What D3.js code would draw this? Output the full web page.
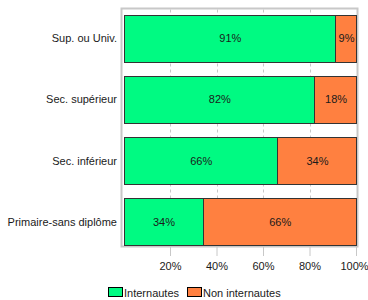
<!DOCTYPE html>
<html>
<head>
<meta charset="utf-8">
<script src="https://cdn.jsdelivr.net/npm/d3@7"></script>
<style>
  body { margin: 0; background: #fff; }
  text { font-family: "Liberation Sans", Arial, sans-serif; font-size: 11px; fill: #1a1a1a; }
</style>
</head>
<body>
<svg id="chart" width="368" height="300"></svg>
<script>
var categories = ["Sup. ou Univ.", "Sec. supérieur", "Sec. inférieur", "Primaire-sans diplôme"]
var internautes = [91, 82, 66, 34]
var nonInternautes = [9, 18, 34, 66]
var seriesNames = ["Internautes", "Non internautes"]
var seriesColors = ["#00fa82", "#ff8040"]
var tickValues = [20, 40, 60, 80, 100]

var svg = d3.select("#chart")

var x = d3.scaleLinear().domain([0, 100]).range([123.5, 356])
var y = d3.scaleBand().domain(categories).range([15, 245]).paddingInner(0.23).paddingOuter(0)

// frame
svg.append("rect")
    .attr("x", 121.5).attr("y", 8.5)
    .attr("width", 236).attr("height", 238)
    .style("fill", "#fff")
    .style("stroke", "#c8c8c8")
    .style("stroke-width", "2px")

// dashed grid
svg.append("g")
    .selectAll("line.grid")
    .data(tickValues.slice(0, 4))
    .join("line")
    .classed("grid", true)
    .attr("x1", d => Math.round(x(d)) + 0.5)
    .attr("x2", d => Math.round(x(d)) + 0.5)
    .attr("y1", 9.5)
    .attr("y2", 246)
    .style("stroke", "#c8c8c8")
    .style("stroke-dasharray", "3,3")

var rows = categories.map(function(c, i) {
    return {cat: c, vals: [internautes[i], nonInternautes[i]]}
})

var segs = []
rows.forEach(function(r) {
    var start = 0
    r.vals.forEach(function(v, j) {
        segs.push({cat: r.cat, x0: start, x1: start + v, v: v, s: j})
        start += v
    })
})

svg.append("g")
    .selectAll("rect.bar")
    .data(segs)
    .join("rect")
    .classed("bar", true)
    .attr("x", d => Math.round(x(d.x0)) + 0.5)
    .attr("y", d => Math.round(y(d.cat)) + 0.5)
    .attr("width", d => Math.round(x(d.x1)) - Math.round(x(d.x0)))
    .attr("height", Math.round(y.bandwidth()))
    .style("fill", d => seriesColors[d.s])
    .style("stroke", "#333")
    .style("stroke-width", "1px")

svg.append("g")
    .selectAll("text.val")
    .data(segs)
    .join("text")
    .classed("val", true)
    .attr("x", d => (x(d.x0) + x(d.x1)) / 2 + 1)
    .attr("y", d => y(d.cat) + y.bandwidth() / 2 + 4)
    .attr("text-anchor", "middle")
    .text(d => d.v + "%")

// category labels
svg.append("g")
    .selectAll("text.cat")
    .data(categories)
    .join("text")
    .classed("cat", true)
    .attr("x", 117)
    .attr("y", d => y(d) + y.bandwidth() / 2 + 4)
    .attr("text-anchor", "end")
    .text(d => d)

// x axis
var axis = d3.axisBottom(x).tickValues(tickValues).tickFormat(d => d + "%").tickSize(9).tickPadding(6)
var ax = svg.append("g").attr("transform", "translate(0,247)").call(axis)
ax.select(".domain").remove()
ax.selectAll(".tick line").style("stroke", "#c8c8c8")
ax.selectAll(".tick text").style("font-size", "11px").style("fill", "#1a1a1a")
    .style("font-family", "Liberation Sans, Arial, sans-serif")
    .attr("dx", d => d == 100 ? -2 : 0)

// legend
var legX = [108, 187]
var leg = svg.append("g")
    .selectAll("g.leg")
    .data(seriesNames)
    .join("g")
    .classed("leg", true)
    .attr("transform", (d, i) => "translate(" + legX[i] + ",287)")
leg.append("rect")
    .attr("x", 0.5).attr("y", 0.5)
    .attr("width", 14).attr("height", 9)
    .style("fill", (d, i) => seriesColors[i])
    .style("stroke", "#000")
leg.append("text")
    .attr("x", 16)
    .attr("y", 10)
    .text(d => d)
</script>
</body>
</html>
